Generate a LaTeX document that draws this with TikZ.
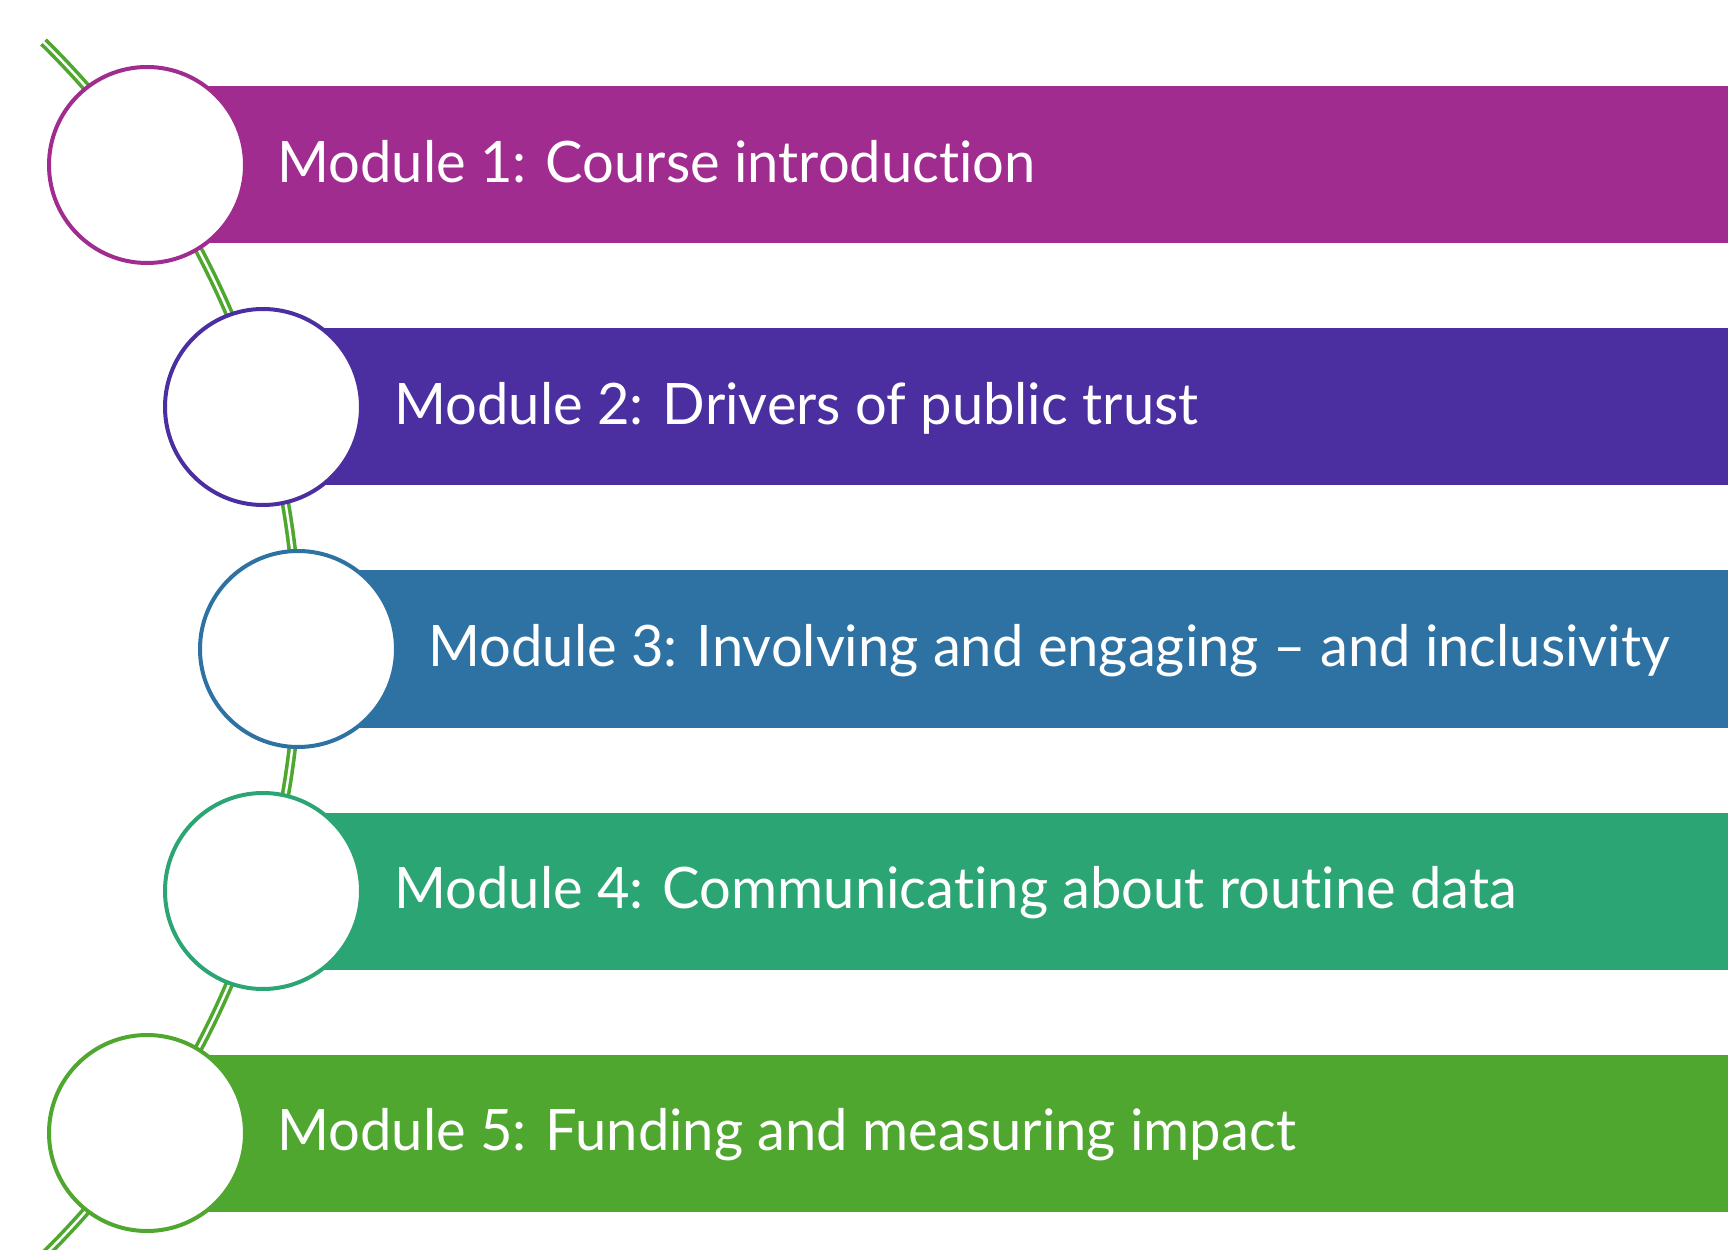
\documentclass[tikz,border=0pt]{standalone}
\usepackage{fontspec}
\setmainfont{Lato}[Ligatures=NoCommon, FakeStretch=0.98]
\definecolor{cPurple}{HTML}{A02C8F}
\definecolor{cIndigo}{HTML}{4B2FA0}
\definecolor{cBlue}{HTML}{2D72A3}
\definecolor{cTeal}{HTML}{2CA574}
\definecolor{cGreen}{HTML}{50A730}
\definecolor{lineGreen}{HTML}{4EA72E}
\tikzset{
  circ/.style={circle, draw=#1, line width=2pt, fill=white, minimum size=98pt, inner sep=0pt},
  lbl/.style={anchor=base west, text=white, inner sep=0pt, font=\fontsize{28.6}{32}\selectfont},
  rail/.style={draw=lineGreen, line width=1.8pt, double=white, double distance=1.2pt},
}
\begin{document}
\begin{tikzpicture}[x=0.5pt,y=0.5pt]
\useasboundingbox (0,0) rectangle (1728,1249);
% centres (y measured upward)
\coordinate (p1) at (147,1084);
\coordinate (p2) at (263,842);
\coordinate (p3) at (298,600);
\coordinate (p4) at (263,358);
\coordinate (p5) at (147,116);
\coordinate (railStart) at (43.5,1207);
% bars
\fill[cPurple] (147,1084-78.5) rectangle (1728,1084+78.5);
\fill[cIndigo] (263,842-78.5) rectangle (1728,842+78.5);
\fill[cBlue]   (298,600-78.5) rectangle (1728,600+78.5);
\fill[cTeal]   (263,358-78.5) rectangle (1728,358+78.5);
\fill[cGreen]  (147,116-78.5) rectangle (1728,116+78.5);
% rail
\draw[rail] (railStart) arc[start angle=45.5, end angle=-47, radius=851];
% circles
\node[circ=cPurple] (c1) at (p1) {};
\node[circ=cIndigo] (c2) at (p2) {};
\node[circ=cBlue]   (c3) at (p3) {};
\node[circ=cTeal]   (c4) at (p4) {};
\node[circ=cGreen]  (c5) at (p5) {};
% labels
\node[lbl] (t1) at (277,1084-17.5) {Module 1: Course introduction};
\node[lbl] (t2) at (394,842-17.5) {Module 2: Drivers of public trust};
\node[lbl] (t3) at (428,600-17.5) {Module 3: Involving and engaging – and inclusivity};
\node[lbl] (t4) at (394,358-17.5) {Module 4: Communicating about routine data};
\node[lbl] (t5) at (277,116-17.5) {Module 5: Funding and measuring impact};
\end{tikzpicture}
\end{document}
